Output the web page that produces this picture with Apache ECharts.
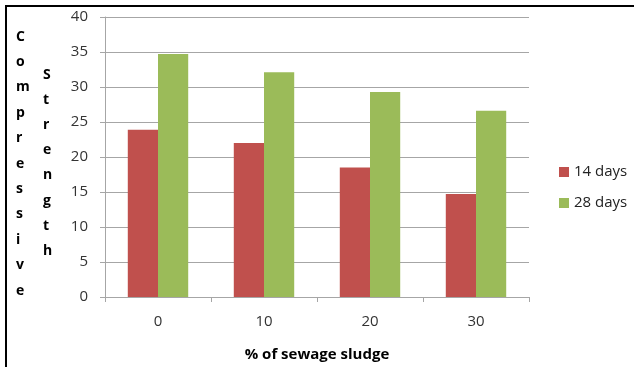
<!DOCTYPE html>
<html>
<head>
<meta charset="utf-8">
<script src="https://cdn.jsdelivr.net/npm/echarts@6/dist/echarts.min.js"></script>
<style>
  html, body { margin: 0; padding: 0; background: #fff; }
  #chart { width: 634px; height: 367px; }
</style>
</head>
<body>
<div id="chart"></div>
<script>
// Compressive strength of mixes by sewage sludge content
const categories = ['0', '10', '20', '30'];
const seriesNames = ['14 days', '28 days'];
const strength14 = [23.9, 22.0, 18.5, 14.7];
const strength28 = [34.7, 32.1, 29.3, 26.6];
const yTicks = { min: 0, max: 40, interval: 5 };
const xTitle = '% of sewage sludge';
const yTitleOuter = 'Compressive';
const yTitleInner = 'Strength';

const font = '"Open Sans", "DejaVu Sans", sans-serif';
const gridColor = '#a6a6a6';

const chart = echarts.init(document.getElementById('chart'), null, { renderer: 'canvas' });

chart.setOption({
  animation: false,
  backgroundColor: '#ffffff',
  grid: { left: 105, right: 105, top: 17, bottom: 70, containLabel: false },
  legend: {
    orient: 'vertical',
    left: 559,
    top: 162,
    padding: 0,
    icon: 'rect',
    itemWidth: 10,
    itemHeight: 10,
    itemGap: 11,
    textStyle: { fontFamily: font, fontSize: 15, color: '#222', lineHeight: 20 },
    data: seriesNames
  },
  xAxis: {
    type: 'category',
    data: categories,
    name: xTitle,
    nameLocation: 'middle',
    nameGap: 50,
    nameTextStyle: { fontFamily: font, fontSize: 15, fontWeight: 'bold', color: '#000' },
    axisLine: { lineStyle: { color: gridColor, width: 1 } },
    axisTick: { show: true, length: 5, inside: false, alignWithLabel: false, lineStyle: { color: gridColor } },
    axisLabel: { fontFamily: font, fontSize: 15, color: '#333', margin: 17 }
  },
  yAxis: {
    type: 'value',
    min: yTicks.min,
    max: yTicks.max,
    interval: yTicks.interval,
    axisLine: { show: true, lineStyle: { color: gridColor, width: 1 } },
    axisTick: { show: true, length: 5, inside: false, lineStyle: { color: gridColor } },
    axisLabel: { fontFamily: font, fontSize: 15, color: '#333', margin: 17 },
    splitLine: { show: true, lineStyle: { color: gridColor, width: 1 } }
  },
  series: [
    {
      name: seriesNames[0],
      type: 'bar',
      data: strength14,
      barGap: '0%',
      barCategoryGap: '43%',
      itemStyle: { color: '#c0504d' }
    },
    {
      name: seriesNames[1],
      type: 'bar',
      data: strength28,
      barGap: '0%',
      barCategoryGap: '43%',
      itemStyle: { color: '#9bbb59' }
    }
  ],
  graphic: [
    {
      type: 'rect',
      shape: { x: 6, y: 6, width: 700, height: 500 },
      style: { fill: 'none', stroke: '#000', lineWidth: 2 },
      silent: true
    },
    {
      type: 'text',
      left: 16,
      top: 24,
      style: {
        text: yTitleOuter.split('').join('\n'),
        fontFamily: font,
        fontSize: 14,
        fontWeight: 'bold',
        lineHeight: 25.4,
        fill: '#000',
        align: 'center',
        width: 16
      }
    },
    {
      type: 'text',
      left: 43,
      top: 62,
      style: {
        text: yTitleInner.split('').join('\n'),
        fontFamily: font,
        fontSize: 14,
        fontWeight: 'bold',
        lineHeight: 25.2,
        fill: '#000',
        align: 'center',
        width: 16
      }
    }
  ]
});
</script>
</body>
</html>
